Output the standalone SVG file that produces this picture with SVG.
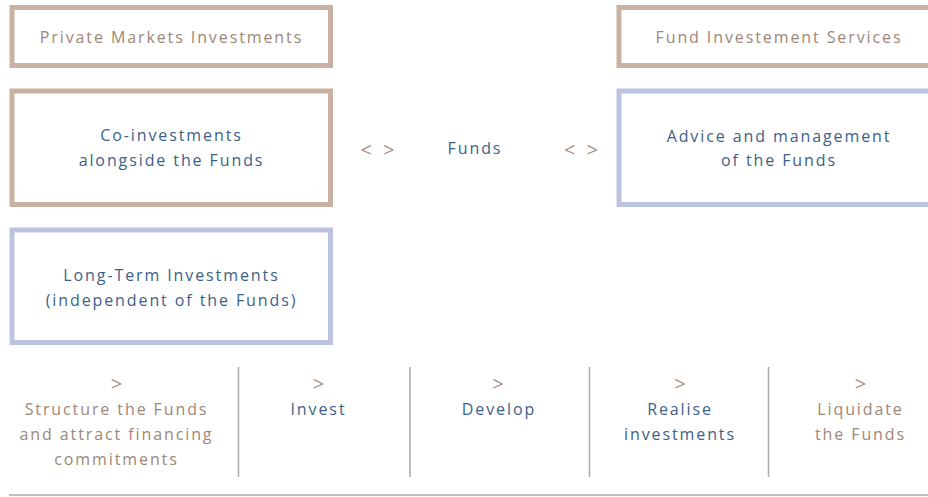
<svg xmlns="http://www.w3.org/2000/svg" width="928" height="497" viewBox="0 0 928 497">
<style>
  text { font-family: "Open Sans", "Noto Sans", "DejaVu Sans", sans-serif; font-size: 16px; letter-spacing: 1.9px; text-anchor: middle; }
  .tan { fill: #9c8779; }
  .blue { fill: #3d5f88; }
  .sym { fill: #a89082; font-size: 20px; letter-spacing: 3px; }
  .boxTan { fill: #ffffff; stroke: #c9b2a1; stroke-width: 5; }
  .boxBlue { fill: #ffffff; stroke: #bcc3e1; stroke-width: 5; }
  .div { stroke: #aaaaaa; stroke-width: 1.5; fill: none; }
</style>
<rect width="928" height="497" fill="#ffffff"/>

<g id="private-markets">
  <rect class="boxTan" x="12" y="7.5" width="318.5" height="58"/>
  <text class="tan" x="171.5" y="43">Private Markets Investments</text>
</g>
<g id="fund-services">
  <rect class="boxTan" x="619" y="7.5" width="320" height="58"/>
  <text class="tan" x="779" y="43">Fund Investement Services</text>
</g>
<g id="co-investments">
  <rect class="boxTan" x="12" y="91" width="318.5" height="113.5"/>
  <text class="blue" x="171.5" y="140.5">Co-investments</text>
  <text class="blue" x="171.5" y="165.5">alongside the Funds</text>
</g>
<g id="funds">
  <text class="sym" x="379" y="156.5">&lt; &gt;</text>
  <text class="blue" x="475" y="154">Funds</text>
  <text class="sym" x="582.5" y="156.5">&lt; &gt;</text>
</g>
<g id="advice">
  <rect class="boxBlue" x="619" y="91" width="320" height="113.5"/>
  <text class="blue" x="779" y="141.5">Advice and management</text>
  <text class="blue" x="779" y="165.5">of the Funds</text>
</g>
<g id="long-term">
  <rect class="boxBlue" x="12" y="230" width="318.5" height="112.5"/>
  <text class="blue" x="171.5" y="280.5">Long-Term Investments</text>
  <text class="blue" x="171.5" y="305.5">(independent of the Funds)</text>
</g>

<g id="step-structure">
  <text class="sym" x="118" y="391">&gt;</text>
  <text class="tan" x="116.5" y="414.5">Structure the Funds</text>
  <text class="tan" x="116.5" y="439.5">and attract financing</text>
  <text class="tan" x="116.5" y="464.5">commitments</text>
</g>
<g id="step-invest">
  <text class="sym" x="320" y="391">&gt;</text>
  <text class="blue" x="318.5" y="414.5">Invest</text>
</g>
<g id="step-develop">
  <text class="sym" x="499.5" y="391">&gt;</text>
  <text class="blue" x="499" y="414.5">Develop</text>
</g>
<g id="step-realise">
  <text class="sym" x="681.5" y="391">&gt;</text>
  <text class="blue" x="680" y="414.5">Realise</text>
  <text class="blue" x="680" y="439.5">investments</text>
</g>
<g id="step-liquidate">
  <text class="sym" x="862" y="391">&gt;</text>
  <text class="tan" x="860.5" y="414.5">Liquidate</text>
  <text class="tan" x="860.5" y="439.5">the Funds</text>
</g>

<g id="connectors">
  <line class="div" x1="238.5" y1="367" x2="238.5" y2="477"/>
  <line class="div" x1="410" y1="367" x2="410" y2="477"/>
  <line class="div" x1="589.5" y1="367" x2="589.5" y2="477"/>
  <line class="div" x1="768.5" y1="367" x2="768.5" y2="477"/>
  <line class="div" x1="9" y1="495" x2="928" y2="495"/>
</g>
</svg>
